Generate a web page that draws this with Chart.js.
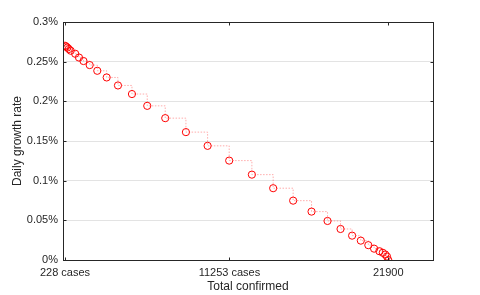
<!DOCTYPE html>
<html>
<head>
<meta charset="utf-8">
<script src="https://cdn.jsdelivr.net/npm/chart.js@4/dist/chart.umd.min.js"></script>
<style>
  body { margin: 0; background: #fff; }
  canvas { display: block; }
</style>
</head>
<body>
<canvas id="myChart" width="480" height="295"></canvas>
<script>
// total confirmed cases at each step
const totalConfirmed = [228, 295, 382, 483, 610, 911, 1166, 1468, 1883, 2392, 3022, 3779, 4717, 5742, 6948, 8335, 9789, 11236,
  12757, 14184, 15524, 16757, 17829, 18700, 19477, 20060, 20563, 20951, 21306, 21534, 21701, 21815, 21900];
// daily growth rate, in percent
const growthRate = [0.2701, 0.2691, 0.2678, 0.2660, 0.2638, 0.2600, 0.2552, 0.2508, 0.2457, 0.2385, 0.2301, 0.2200, 0.2092,
  0.1943, 0.1788, 0.1612, 0.1439, 0.1253, 0.1076, 0.0905, 0.0748, 0.0610, 0.0492, 0.0391, 0.0307, 0.0244, 0.0187, 0.0143,
  0.0111, 0.0091, 0.0069, 0.0044, 0];

const xTickValues = [228, 11253, 21900];
const xTickLabels = ['228 cases', '11253 cases', '21900'];
const yTickValues = [0, 0.05, 0.1, 0.15, 0.2, 0.25, 0.3];

const axisColor = '#262626';
const font = { family: '"Liberation Sans", Arial, sans-serif', size: 11 };

// MATLAB style box with inward ticks
const boxPlugin = {
  id: 'box',
  afterDraw(chart) {
    const c = chart.ctx;
    const a = chart.chartArea;
    const xs = chart.scales.x;
    const ys = chart.scales.y;
    c.save();
    c.strokeStyle = axisColor;
    c.lineWidth = 1;
    const l = Math.round(a.left) + 0.5, r = Math.round(a.right) + 0.5;
    const t = Math.round(a.top) + 0.5, b = Math.round(a.bottom) + 0.5;
    c.strokeRect(l, t, r - l, b - t);
    c.beginPath();
    xTickValues.forEach(v => {
      const px = Math.round(xs.getPixelForValue(v)) + 0.5;
      c.moveTo(px, b); c.lineTo(px, b - 3);
      c.moveTo(px, t); c.lineTo(px, t + 3);
    });
    yTickValues.forEach(v => {
      const py = Math.round(ys.getPixelForValue(v)) + 0.5;
      c.moveTo(l, py); c.lineTo(l + 3, py);
      c.moveTo(r, py); c.lineTo(r - 3, py);
    });
    c.stroke();
    c.restore();
  }
};

const points = totalConfirmed.map((v, i) => ({ x: v, y: growthRate[i] }));

const ctx = document.getElementById('myChart').getContext('2d');
const myChart = new Chart(ctx, {
  type: 'scatter',
  data: {
    datasets: [{
      data: points,
      showLine: true,
      stepped: 'before',
      borderColor: 'rgba(255, 70, 70, 0.45)',
      borderWidth: 1,
      borderDash: [1.5, 1.5],
      pointRadius: 3.6,
      pointBorderColor: '#ff0000',
      pointBackgroundColor: 'rgba(0,0,0,0)',
      pointBorderWidth: 1
    }]
  },
  options: {
    responsive: false,
    animation: false,
    layout: { padding: { top: 22, right: 47, left: 0, bottom: 0 } },
    plugins: { legend: { display: false }, tooltip: { enabled: false } },
    scales: {
      x: {
        type: 'linear',
        min: 94,
        max: 24900,
        afterFit: (s) => { s.height = 35; },
        afterBuildTicks: (s) => { s.ticks = xTickValues.map(v => ({ value: v })); },
        grid: { display: false, drawTicks: false },
        border: { display: false },
        ticks: {
          color: axisColor,
          font: font,
          padding: 6,
          maxRotation: 0,
          autoSkip: false,
          callback: (v) => xTickLabels[xTickValues.indexOf(v)]
        },
        title: {
          display: true,
          text: 'Total confirmed',
          color: axisColor,
          font: { family: font.family, size: 12 },
          padding: { top: 0, bottom: 1 }
        }
      },
      y: {
        min: 0,
        max: 0.3,
        afterFit: (s) => { s.width = 63; },
        afterBuildTicks: (s) => { s.ticks = yTickValues.map(v => ({ value: v })); },
        grid: { color: '#e3e3e3', drawTicks: false },
        border: { display: false },
        ticks: {
          color: axisColor,
          font: font,
          padding: 5,
          callback: (v) => Number(v.toFixed(2)) + '%'
        },
        title: {
          display: true,
          text: 'Daily growth rate',
          color: axisColor,
          font: { family: font.family, size: 12 },
          padding: { top: 10, bottom: 0 }
        }
      }
    }
  },
  plugins: [boxPlugin]
});
</script>
</body>
</html>
